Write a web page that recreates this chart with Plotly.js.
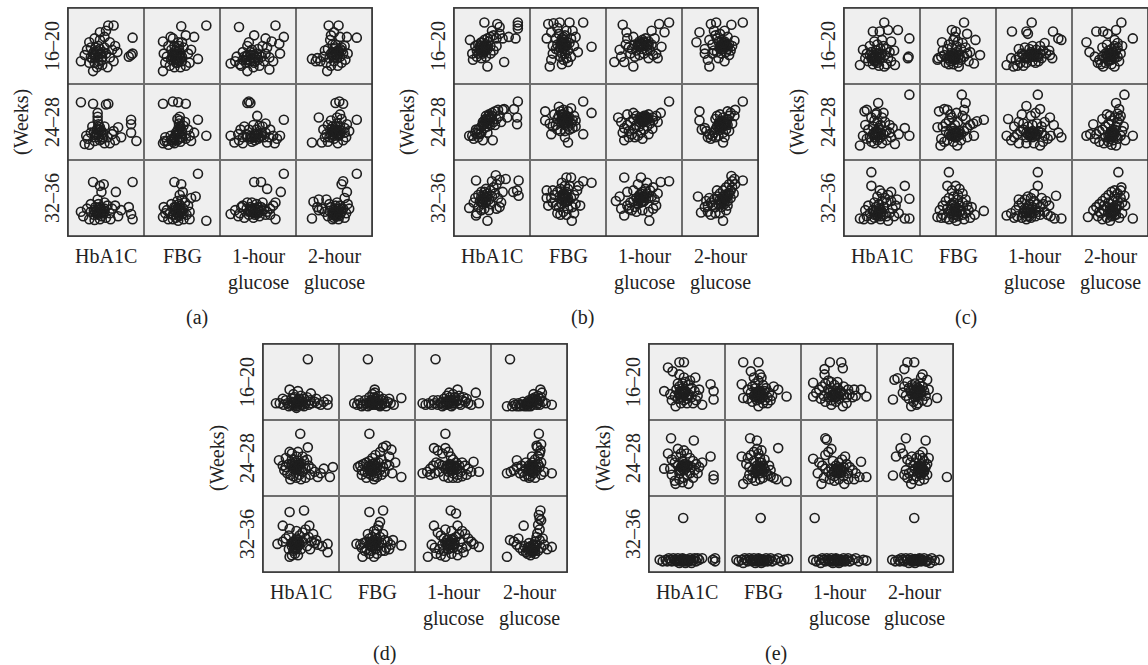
<!DOCTYPE html>
<html><head><meta charset="utf-8">
<script src="https://cdn.plot.ly/plotly-3.0.1.min.js"></script>
<style>html,body{margin:0;padding:0;background:#fff}#chart{width:1148px;height:665px}</style>
</head><body><div id="chart"></div>
<script>
// ---------- labels ----------
const panelNames = ['(a)', '(b)', '(c)', '(d)', '(e)'];
const rowLabels = ['16–20', '24–28', '32–36'];
const colLabels = ['HbA1C', 'FBG', '1-hour<br>glucose', '2-hour<br>glucose'];
const yTitle = '(Weeks)';

// ---------- data: [x, y] pairs per cell (relative units 0-100) ----------
// panel (a)
const a_r1_c1 = [[53,77],[60,77],[85,61],[83,38],[80,36],[85,40],[17,30],[33,17],[25,45],[28,55],[35,60],[42,58],[48,62],[55,55],[62,50],[58,45],[50,40],[45,35],[40,30],[35,28],[30,35],[38,42],[42,46],[33,40],[28,28],[45,25],[52,22],[38,22],[60,30],[22,38],[40,50],[48,48],[36,35],[44,40],[30,48],[55,35],[65,42],[42,68],[50,70],[36,38],[40,36],[42,40],[38,44],[34,42],[44,32],[32,34],[46,42],[40,26],[36,48]];
const a_r1_c2 = [[49,76],[82,77],[25,56],[25,17],[71,33],[55,64],[66,62],[42,38],[44,42],[46,46],[40,50],[45,55],[38,60],[48,35],[50,30],[42,28],[36,32],[30,36],[28,28],[34,24],[40,22],[48,22],[55,24],[60,28],[58,40],[52,48],[50,55],[36,45],[32,50],[44,34],[40,40],[46,30],[62,45],[38,36],[43,47],[35,62],[26,40],[44,38],[46,36],[42,44],[48,40],[40,36],[46,50],[44,28],[50,36],[38,40],[42,32]];
const a_r1_c3 = [[25,75],[73,77],[84,62],[78,53],[79,40],[65,19],[14,27],[36,17],[45,64],[60,60],[20,30],[26,26],[30,32],[35,36],[40,30],[45,28],[50,32],[55,36],[60,40],[65,35],[70,30],[48,40],[42,45],[36,50],[30,42],[22,36],[28,24],[44,22],[52,24],[56,50],[62,48],[68,56],[40,38],[34,28],[46,34],[58,30],[38,55],[50,46],[38,32],[42,34],[36,38],[44,38],[32,36],[48,36],[40,42],[34,32],[46,30],[52,38]];
const a_r1_c4 = [[43,77],[56,77],[80,61],[21,33],[67,62],[41,17],[32,30],[50,68],[58,62],[45,58],[52,52],[60,48],[55,44],[48,42],[52,38],[58,36],[62,40],[65,32],[50,30],[44,34],[40,28],[36,36],[28,34],[46,24],[55,24],[60,28],[64,50],[42,46],[38,44],[50,46],[54,34],[48,52],[26,30],[68,40],[46,64],[52,42],[54,38],[50,36],[56,44],[48,38],[58,46],[52,48],[46,40],[56,40],[60,44]];
const a_r2_c1 = [[17,76],[33,74],[50,73],[53,74],[39,62],[39,57],[39,52],[40,47],[42,43],[44,38],[46,36],[38,40],[36,33],[30,36],[26,28],[22,21],[28,20],[35,25],[45,28],[52,30],[58,34],[66,43],[60,38],[62,26],[55,22],[48,22],[83,53],[83,47],[83,36],[90,25],[70,30],[32,44],[48,44],[24,32],[42,40],[40,36],[38,34],[44,34],[40,30],[36,30],[42,26],[46,30],[34,36],[40,44]];
const a_r2_c2 = [[25,74],[38,77],[45,76],[55,74],[47,57],[47,52],[46,48],[48,44],[45,40],[50,38],[44,34],[40,30],[36,27],[30,25],[27,25],[25,22],[32,20],[40,22],[48,24],[55,28],[60,32],[58,40],[52,45],[42,36],[35,32],[71,53],[82,32],[66,36],[62,25],[28,30],[50,30],[38,24],[54,50],[44,54],[46,36],[44,38],[42,32],[40,28],[46,28],[48,30],[44,26],[38,26],[50,34],[46,44]];
const a_r2_c3 = [[36,75],[40,75],[38,77],[49,58],[84,53],[14,32],[19,23],[25,26],[30,30],[35,34],[40,32],[45,30],[50,28],[55,32],[60,36],[65,30],[70,32],[75,28],[79,32],[62,23],[30,22],[42,24],[48,40],[52,45],[56,44],[60,48],[44,46],[38,40],[32,44],[27,40],[66,40],[24,34],[50,34],[72,22],[44,32],[46,34],[42,30],[48,32],[52,30],[40,28],[54,36],[36,30],[58,30],[46,26]];
const a_r2_c4 = [[52,75],[57,77],[62,74],[30,56],[80,53],[67,47],[50,36],[52,40],[48,44],[54,48],[58,44],[60,38],[56,32],[50,28],[44,30],[40,34],[36,40],[42,46],[46,52],[54,56],[60,54],[64,36],[66,30],[62,26],[55,22],[34,23],[21,23],[42,24],[48,34],[38,30],[58,60],[45,40],[64,42],[70,38],[52,36],[54,40],[50,40],[56,38],[48,38],[54,34],[58,34],[50,32],[52,44],[46,34]];
const a_r3_c1 = [[85,71],[33,71],[42,66],[47,68],[63,58],[44,58],[39,48],[40,42],[36,38],[42,35],[45,32],[38,30],[34,28],[30,32],[25,36],[17,32],[20,26],[28,22],[35,21],[42,22],[50,24],[55,30],[58,36],[62,40],[52,40],[48,44],[30,42],[70,34],[80,38],[83,29],[85,22],[66,26],[44,26],[56,22],[48,36],[40,32],[42,30],[38,34],[44,36],[36,32],[40,28],[46,30],[42,38],[34,34],[48,32]];
const a_r3_c2 = [[71,82],[40,71],[49,68],[51,58],[68,52],[62,50],[44,46],[46,42],[42,38],[40,34],[44,30],[48,32],[52,36],[38,28],[34,30],[30,34],[26,38],[25,25],[32,22],[38,22],[45,20],[52,22],[56,28],[60,32],[58,40],[50,48],[36,42],[82,20],[60,22],[28,30],[46,26],[54,44],[42,24],[47,54],[46,34],[44,36],[48,36],[42,32],[50,32],[44,30],[48,40],[40,38],[46,28],[52,30]];
const a_r3_c3 = [[84,82],[45,71],[54,71],[62,62],[80,58],[73,44],[14,29],[73,22],[20,34],[26,30],[30,40],[35,36],[40,32],[43,34],[46,30],[50,34],[54,38],[58,35],[62,32],[66,36],[70,40],[48,42],[42,44],[38,28],[32,24],[44,24],[52,26],[60,28],[56,44],[28,38],[24,26],[66,28],[36,44],[50,30],[40,38],[44,32],[46,36],[48,32],[42,36],[52,32],[40,34],[54,34],[46,28],[50,38],[38,32]];
const a_r3_c4 = [[80,82],[60,68],[62,72],[67,58],[64,50],[23,45],[30,48],[40,48],[21,23],[54,32],[50,35],[56,36],[60,32],[58,28],[52,28],[48,30],[44,33],[46,38],[52,40],[58,40],[62,36],[66,30],[64,24],[56,22],[48,22],[42,26],[38,32],[34,36],[30,34],[28,38],[70,36],[68,42],[50,24],[54,44],[44,42],[54,30],[52,32],[56,32],[50,30],[58,30],[54,36],[52,26],[48,28],[56,26],[60,36]];
// panel (b)
const b_r1_c1 = [[40,81],[21,58],[57,79],[60,75],[84,81],[84,77],[84,73],[81,60],[66,29],[44,23],[25,32],[34,47],[30,44],[28,50],[32,52],[36,55],[40,58],[44,60],[48,62],[52,64],[56,60],[38,48],[42,52],[46,56],[36,42],[32,40],[40,44],[44,46],[48,50],[30,36],[36,34],[42,36],[48,40],[52,44],[56,50],[60,66],[64,60],[72,62],[50,70],[24,40],[38,46],[36,50],[40,50],[34,44],[42,48],[38,40],[44,50],[36,54],[40,42],[34,50]];
const b_r1_c2 = [[24,79],[31,80],[39,81],[52,81],[70,81],[22,60],[81,49],[26,23],[28,32],[50,29],[63,42],[44,55],[42,60],[46,64],[48,70],[38,66],[34,60],[36,52],[40,48],[44,46],[48,50],[52,54],[54,60],[50,44],[46,40],[42,40],[38,44],[34,46],[30,50],[40,36],[44,32],[48,34],[36,74],[56,70],[58,50],[30,40],[42,26],[54,36],[60,62],[28,68],[44,52],[46,54],[42,56],[48,52],[44,58],[40,54],[46,48],[42,50],[48,56],[44,62]];
const b_r1_c3 = [[22,78],[27,68],[70,79],[83,81],[77,68],[11,29],[24,29],[36,23],[18,45],[46,53],[50,55],[54,52],[42,50],[38,52],[44,56],[48,58],[52,60],[56,56],[60,52],[62,38],[73,49],[66,40],[58,44],[40,44],[34,46],[30,48],[26,52],[32,40],[38,36],[44,38],[50,40],[54,44],[64,60],[60,70],[36,62],[28,60],[20,36],[56,34],[68,34],[48,46],[48,52],[50,50],[46,50],[52,54],[44,52],[54,50],[50,56],[46,54],[42,52],[56,52]];
const b_r1_c4 = [[23,68],[38,79],[45,81],[80,81],[65,78],[19,55],[36,23],[34,32],[69,57],[54,51],[50,48],[56,54],[52,46],[58,50],[60,46],[62,52],[48,56],[46,60],[44,64],[50,66],[56,70],[60,62],[42,44],[40,40],[46,42],[52,40],[58,42],[62,38],[40,52],[36,58],[30,46],[48,34],[56,30],[64,44],[66,50],[42,70],[30,40],[52,58],[54,50],[52,52],[56,50],[54,46],[58,52],[50,50],[56,56],[52,48],[60,50],[54,54]];
const b_r2_c1 = [[20,32],[84,77],[83,56],[83,47],[79,67],[66,67],[42,54],[38,26],[51,26],[29,40],[24,32],[28,36],[32,40],[36,44],[40,48],[44,52],[48,56],[46,60],[50,62],[54,64],[58,66],[60,58],[56,54],[52,50],[48,46],[44,44],[40,42],[36,36],[32,30],[38,50],[42,58],[46,48],[54,46],[62,50],[70,56],[26,28],[34,34],[44,36],[64,66],[30,34],[44,52],[42,54],[46,54],[40,52],[48,54],[44,48],[42,50],[46,58],[38,46],[50,58]];
const b_r2_c2 = [[70,77],[81,62],[70,34],[46,52],[20,64],[20,52],[28,34],[50,23],[60,52],[44,56],[48,58],[42,60],[40,64],[44,66],[50,64],[52,56],[48,50],[44,48],[40,50],[36,54],[38,58],[42,52],[46,46],[50,44],[54,48],[56,52],[58,58],[34,46],[30,44],[36,40],[40,38],[46,38],[52,40],[56,42],[26,48],[38,70],[54,68],[46,30],[60,44],[32,60],[46,54],[44,52],[48,54],[46,58],[42,56],[50,56],[46,50],[44,60],[48,48],[50,52]];
const b_r2_c3 = [[83,77],[72,62],[61,56],[51,56],[24,26],[16,56],[37,41],[61,41],[48,54],[52,58],[56,60],[54,54],[50,50],[46,52],[44,56],[40,58],[36,54],[32,50],[28,46],[24,42],[30,38],[34,34],[38,30],[42,32],[46,36],[50,40],[54,44],[58,48],[62,52],[66,58],[44,44],[40,46],[36,62],[28,60],[20,50],[30,30],[48,28],[56,34],[68,50],[22,36],[50,54],[48,56],[52,56],[46,54],[54,56],[50,58],[48,50],[52,52],[44,50],[56,54]];
const b_r2_c4 = [[80,77],[23,64],[23,52],[56,47],[38,28],[54,23],[69,58],[52,44],[58,50],[60,54],[62,58],[64,62],[54,56],[50,52],[48,48],[46,44],[50,40],[54,36],[58,40],[60,46],[44,40],[42,36],[40,32],[36,34],[32,38],[30,42],[44,30],[48,32],[56,30],[62,38],[66,48],[70,66],[60,64],[50,60],[44,54],[26,40],[46,58],[34,30],[54,48],[52,46],[56,50],[52,50],[50,46],[56,46],[54,52],[58,46],[52,42],[48,44]];
const b_r3_c1 = [[29,73],[55,80],[68,75],[85,73],[83,60],[85,53],[38,49],[20,37],[29,27],[44,20],[40,52],[44,56],[48,60],[52,64],[56,68],[50,72],[42,62],[36,58],[32,54],[28,50],[34,46],[38,42],[42,44],[46,48],[50,52],[54,56],[58,50],[62,44],[60,38],[56,36],[36,34],[32,38],[40,36],[46,34],[26,44],[64,58],[60,74],[78,58],[48,42],[30,30],[40,50],[38,48],[42,50],[40,54],[36,52],[44,52],[38,44],[42,46],[36,46],[40,58]];
const b_r3_c2 = [[48,77],[54,77],[81,70],[70,72],[22,60],[55,20],[46,49],[42,52],[44,56],[48,58],[50,62],[52,66],[46,66],[40,62],[36,58],[32,54],[28,50],[30,44],[34,40],[38,38],[42,42],[46,44],[50,46],[54,50],[58,54],[62,60],[64,66],[60,42],[56,38],[50,36],[44,32],[40,28],[36,30],[24,40],[22,50],[66,40],[58,30],[48,28],[42,70],[30,60],[46,50],[44,50],[48,52],[46,54],[42,48],[50,50],[44,54],[48,46],[42,54],[46,46]];
const b_r3_c3 = [[24,77],[46,77],[72,71],[83,72],[46,49],[13,46],[24,27],[57,20],[50,52],[54,56],[58,60],[62,64],[52,62],[48,58],[44,54],[40,50],[36,46],[32,44],[28,40],[30,36],[34,34],[38,38],[42,42],[46,44],[50,46],[56,50],[60,52],[64,48],[66,40],[62,36],[56,32],[48,34],[40,32],[18,52],[20,36],[36,60],[28,58],[68,56],[42,68],[54,70],[46,50],[48,52],[44,48],[50,50],[48,46],[42,46],[52,54],[44,52],[50,46],[46,56]];
const b_r3_c4 = [[65,79],[69,75],[80,73],[21,52],[52,44],[54,20],[25,31],[56,48],[60,52],[62,56],[64,60],[66,64],[62,68],[58,64],[54,60],[50,56],[46,52],[42,48],[38,44],[34,40],[30,38],[32,46],[36,50],[40,40],[44,38],[48,42],[52,38],[56,42],[60,46],[64,50],[68,56],[70,68],[66,72],[44,30],[38,28],[50,30],[58,34],[46,60],[34,32],[60,40],[54,48],[56,50],[52,46],[58,54],[54,52],[50,48],[56,46],[52,42],[58,50],[60,56]];
// panel (c)
const c_r1_c1 = [[53,81],[38,69],[47,69],[58,71],[71,71],[86,60],[84,34],[85,36],[21,25],[40,36],[67,25],[53,23],[25,45],[30,40],[34,38],[38,34],[42,32],[46,36],[50,40],[54,38],[58,34],[62,30],[44,28],[38,26],[32,30],[28,34],[36,42],[42,44],[48,46],[52,50],[56,46],[60,42],[66,44],[34,50],[44,52],[46,24],[56,26],[62,56],[50,58],[40,56],[42,36],[40,34],[44,34],[38,38],[46,38],[40,30],[44,40],[36,34],[48,34],[42,30]];
const c_r1_c2 = [[58,81],[42,71],[47,69],[62,66],[73,58],[79,38],[29,55],[40,36],[23,32],[51,23],[71,27],[44,40],[48,42],[52,38],[46,34],[40,30],[36,34],[32,38],[28,36],[24,34],[34,28],[38,26],[44,26],[50,28],[54,32],[58,36],[62,40],[66,42],[60,48],[54,46],[48,50],[42,48],[36,46],[44,58],[50,56],[38,52],[56,54],[64,30],[30,44],[46,62],[44,36],[42,34],[46,36],[40,36],[44,32],[48,38],[42,38],[46,32],[38,34],[50,34]];
const c_r1_c3 = [[47,81],[40,69],[42,66],[21,69],[75,69],[82,60],[86,58],[14,25],[36,38],[53,45],[71,38],[23,23],[20,34],[26,32],[30,36],[34,40],[38,34],[42,36],[46,40],[50,38],[54,36],[58,40],[62,44],[66,40],[70,44],[60,34],[56,30],[48,30],[40,28],[32,28],[28,24],[36,24],[44,46],[48,50],[58,50],[64,54],[38,48],[52,28],[74,34],[30,46],[46,36],[48,38],[44,38],[50,36],[52,40],[42,34],[54,38],[46,42],[40,36],[56,36]];
const c_r1_c4 = [[65,81],[19,55],[32,69],[41,69],[47,66],[58,71],[80,60],[47,36],[23,42],[41,23],[56,23],[50,40],[54,42],[58,44],[60,48],[56,50],[52,46],[48,44],[44,40],[40,36],[36,32],[34,28],[38,26],[44,28],[48,30],[52,32],[56,34],[60,36],[62,30],[64,40],[46,52],[40,48],[60,54],[30,36],[52,26],[66,50],[56,58],[44,34],[50,36],[52,38],[48,36],[54,36],[50,32],[46,38],[52,42],[48,32],[56,38],[50,40]];
const c_r2_c1 = [[86,86],[27,64],[43,62],[45,75],[21,19],[45,36],[80,42],[86,32],[67,21],[25,32],[30,66],[36,56],[40,52],[44,50],[48,46],[46,42],[42,38],[38,34],[34,30],[30,28],[36,24],[40,22],[44,26],[48,30],[52,34],[56,38],[60,36],[62,30],[56,26],[50,22],[32,40],[38,44],[50,56],[54,50],[60,46],[28,46],[42,60],[52,62],[64,42],[72,34],[44,36],[42,34],[46,34],[40,36],[44,32],[48,36],[42,30],[46,40],[40,30],[48,30]];
const c_r2_c2 = [[55,86],[60,75],[25,64],[32,67],[75,51],[84,53],[71,32],[23,43],[45,36],[27,19],[49,19],[36,66],[40,60],[42,56],[38,52],[34,48],[30,44],[34,38],[38,34],[42,32],[46,30],[50,32],[54,34],[58,38],[62,42],[66,46],[70,48],[60,54],[56,58],[50,50],[46,46],[42,42],[36,26],[32,24],[44,24],[54,26],[62,30],[28,28],[48,62],[58,66],[46,36],[44,34],[48,36],[42,34],[46,32],[50,36],[44,38],[48,30],[40,32],[52,38]];
const c_r2_c3 = [[55,86],[40,71],[58,67],[71,56],[16,54],[82,36],[86,30],[14,32],[45,36],[58,19],[20,26],[24,30],[28,34],[32,38],[36,40],[40,36],[44,32],[48,30],[52,34],[56,38],[60,36],[64,32],[68,28],[72,32],[60,44],[54,48],[48,46],[42,44],[36,48],[30,50],[34,60],[46,58],[52,62],[64,50],[24,44],[30,22],[40,22],[50,22],[62,24],[76,46],[46,36],[48,34],[44,36],[50,36],[46,32],[42,34],[52,32],[48,38],[40,30],[54,34]];
const c_r2_c4 = [[69,86],[58,75],[62,67],[60,61],[28,47],[19,32],[80,32],[50,32],[58,19],[54,36],[56,40],[58,44],[60,50],[62,54],[64,58],[56,56],[52,52],[48,48],[44,44],[40,40],[36,38],[32,34],[24,34],[30,28],[36,24],[42,22],[48,24],[54,26],[60,28],[64,32],[66,38],[68,44],[50,58],[46,60],[40,54],[44,30],[52,20],[70,26],[52,34],[54,32],[50,34],[56,34],[52,30],[48,32],[54,38],[50,28],[58,32],[52,38]];
const c_r3_c1 = [[36,84],[36,66],[47,60],[80,66],[86,49],[21,23],[45,31],[80,23],[86,23],[30,26],[34,30],[38,34],[42,38],[46,42],[50,46],[54,50],[58,54],[62,58],[56,44],[52,38],[48,34],[44,28],[40,24],[36,22],[48,22],[56,26],[60,30],[64,36],[68,40],[40,44],[32,40],[28,34],[66,26],[72,30],[50,56],[62,46],[44,52],[26,22],[58,20],[70,48],[46,32],[44,30],[48,30],[42,32],[50,32],[46,36],[44,26],[48,26],[40,28],[52,28]];
const c_r3_c2 = [[38,84],[36,66],[47,66],[84,33],[23,25],[47,31],[42,60],[52,62],[56,56],[50,54],[44,52],[38,50],[34,46],[30,40],[26,34],[30,28],[34,24],[38,22],[44,24],[50,26],[56,28],[60,30],[64,34],[68,38],[72,28],[66,24],[58,22],[48,20],[40,30],[46,36],[52,40],[56,44],[60,48],[42,42],[36,36],[62,40],[28,24],[54,34],[44,44],[50,48],[46,34],[44,32],[48,32],[46,38],[42,36],[50,36],[44,28],[48,28],[40,34],[52,32]];
const c_r3_c3 = [[55,84],[55,66],[79,53],[14,27],[77,23],[86,23],[40,31],[20,30],[26,34],[30,40],[34,44],[38,48],[42,52],[46,50],[50,46],[54,42],[58,38],[62,42],[66,46],[70,40],[64,32],[58,28],[52,26],[46,24],[40,22],[34,24],[28,26],[36,30],[44,34],[48,38],[52,34],[56,32],[60,50],[44,42],[38,36],[30,48],[24,24],[68,28],[72,26],[50,56],[42,32],[40,30],[44,30],[38,32],[46,32],[42,36],[40,26],[44,26],[36,30],[48,30]];
const c_r3_c4 = [[61,84],[65,64],[69,53],[21,25],[80,23],[52,31],[28,34],[32,38],[36,42],[40,46],[44,50],[48,54],[52,58],[56,60],[60,56],[64,50],[66,44],[62,40],[58,36],[54,34],[50,36],[46,38],[42,34],[38,30],[34,26],[40,22],[46,24],[52,26],[58,28],[62,24],[66,30],[48,44],[54,46],[60,46],[42,40],[56,52],[64,60],[70,40],[36,32],[50,20],[54,34],[52,32],[56,32],[54,38],[50,34],[58,36],[52,28],[56,28],[50,30],[58,40]];
// panel (d)
const d_r1_c1 = [[59,80],[35,40],[46,38],[63,35],[85,27],[85,20],[17,22],[22,22],[27,20],[32,22],[36,20],[40,22],[44,20],[48,22],[52,20],[56,22],[60,20],[64,22],[68,24],[72,22],[76,20],[30,26],[38,28],[46,26],[54,28],[62,26],[42,30],[50,32],[34,18],[44,16],[54,18],[26,28],[70,28],[80,24],[40,34],[58,30],[48,28],[44,22],[46,22],[42,24],[48,24],[40,20],[50,20],[38,24],[52,24],[44,18],[46,26]];
const d_r1_c2 = [[38,80],[47,40],[47,36],[82,29],[20,22],[24,20],[28,22],[32,20],[36,22],[40,20],[44,22],[48,24],[52,22],[56,20],[60,22],[64,24],[68,22],[72,20],[26,26],[34,26],[42,26],[50,28],[58,28],[46,30],[52,32],[44,34],[30,18],[38,18],[54,18],[62,18],[66,28],[40,30],[48,20],[56,26],[44,22],[46,22],[42,24],[48,24],[40,22],[50,22],[46,26],[44,20],[52,20],[48,28]];
const d_r1_c3 = [[27,80],[56,40],[45,36],[80,36],[84,22],[10,22],[14,20],[18,22],[22,20],[26,22],[30,20],[34,22],[38,20],[42,22],[46,24],[50,22],[54,24],[58,22],[62,26],[66,24],[70,22],[74,20],[30,26],[38,28],[46,30],[52,30],[58,32],[64,30],[42,32],[50,34],[60,20],[24,26],[36,18],[48,18],[68,28],[44,22],[46,22],[40,24],[48,26],[42,20],[52,26],[36,24],[56,26],[44,26],[50,20]];
const d_r1_c4 = [[25,80],[65,40],[67,36],[80,20],[21,18],[28,18],[32,20],[36,22],[40,20],[44,18],[48,20],[52,22],[56,24],[60,26],[64,28],[62,32],[66,30],[58,30],[54,28],[50,24],[46,22],[42,24],[38,18],[34,18],[30,22],[60,20],[68,24],[72,22],[56,34],[62,22],[48,18],[52,18],[64,20],[52,24],[54,24],[50,22],[56,26],[48,22],[58,28],[46,20],[54,20],[60,24],[50,26]];
const d_r2_c1 = [[49,82],[35,58],[46,58],[59,64],[21,47],[92,38],[88,25],[72,25],[50,43],[54,46],[46,40],[42,44],[38,48],[34,42],[30,38],[26,40],[28,34],[32,30],[36,28],[40,26],[44,24],[48,28],[52,32],[56,36],[60,40],[64,36],[68,32],[62,28],[56,24],[48,36],[40,36],[44,52],[52,52],[38,56],[30,50],[76,30],[80,36],[36,22],[50,22],[58,48],[44,38],[42,40],[46,38],[40,40],[44,34],[48,40],[42,36],[46,44],[38,42],[50,36]];
const d_r2_c2 = [[40,82],[58,64],[69,61],[66,52],[82,25],[25,38],[42,38],[50,25],[62,66],[54,58],[48,54],[44,50],[40,46],[36,44],[32,42],[28,40],[30,34],[34,32],[38,30],[42,28],[46,26],[50,30],[54,34],[58,38],[62,42],[66,40],[60,32],[56,28],[44,34],[48,40],[52,44],[38,38],[30,28],[70,30],[36,24],[46,22],[74,44],[56,48],[44,38],[46,40],[42,36],[48,36],[44,42],[40,40],[46,34],[50,38],[42,32],[48,44]];
const d_r2_c3 = [[40,82],[25,63],[40,63],[47,52],[77,45],[84,32],[10,30],[47,38],[30,60],[44,58],[36,56],[50,48],[54,44],[58,40],[62,44],[66,40],[70,36],[74,32],[60,32],[56,28],[50,30],[44,32],[40,36],[36,40],[32,42],[28,44],[24,40],[20,36],[16,32],[20,28],[26,30],[32,32],[38,26],[44,24],[50,24],[56,24],[62,26],[68,28],[46,42],[52,36],[48,38],[50,38],[46,36],[52,40],[44,38],[50,34],[54,38],[46,40],[56,36],[42,40]];
const d_r2_c4 = [[63,82],[61,64],[65,60],[34,47],[21,30],[80,30],[52,34],[64,56],[62,52],[58,48],[54,44],[50,40],[46,36],[42,32],[38,30],[30,34],[26,32],[34,38],[48,28],[52,26],[56,30],[60,34],[64,38],[66,44],[62,42],[56,38],[50,24],[44,26],[58,24],[66,28],[70,32],[40,40],[60,66],[66,68],[54,52],[46,44],[54,36],[56,34],[52,38],[58,36],[54,32],[50,36],[56,40],[52,32],[60,38],[54,40]];
const d_r3_c1 = [[35,79],[54,81],[26,61],[35,57],[61,61],[19,37],[85,37],[85,26],[43,37],[35,20],[40,40],[44,44],[48,48],[52,52],[56,56],[46,40],[38,34],[34,30],[40,28],[44,32],[48,36],[52,40],[56,44],[60,46],[64,40],[68,38],[72,36],[78,34],[50,30],[42,24],[38,22],[30,44],[26,40],[34,48],[58,34],[46,22],[66,50],[44,54],[62,30],[70,42],[44,36],[42,38],[46,34],[40,36],[44,40],[48,38],[42,32],[46,42],[38,38],[44,30]];
const d_r3_c2 = [[40,79],[58,81],[52,61],[71,42],[82,35],[23,37],[42,37],[31,20],[46,20],[46,54],[50,56],[48,50],[44,46],[40,44],[36,40],[32,38],[28,36],[30,32],[36,30],[42,28],[48,30],[52,34],[56,38],[60,42],[64,40],[68,36],[62,32],[56,28],[50,24],[40,24],[54,46],[58,50],[46,40],[38,50],[54,66],[34,28],[66,30],[44,34],[50,44],[60,28],[44,38],[46,36],[42,40],[48,38],[44,34],[40,36],[46,42],[50,40],[42,34],[48,34]];
const d_r3_c3 = [[47,81],[54,77],[56,61],[25,61],[77,37],[84,33],[17,20],[43,37],[30,52],[34,48],[38,44],[42,42],[46,40],[50,44],[54,46],[58,50],[62,54],[66,50],[70,44],[74,40],[68,34],[62,32],[56,30],[50,32],[44,30],[38,28],[32,30],[26,32],[22,36],[28,24],[34,22],[40,20],[48,24],[56,22],[64,26],[48,54],[40,56],[60,40],[36,36],[52,36],[46,36],[44,38],[48,38],[42,36],[50,36],[46,32],[44,34],[52,38],[40,38],[48,42]];
const d_r3_c4 = [[65,81],[63,75],[43,61],[25,42],[21,20],[80,33],[52,33],[61,51],[64,56],[62,62],[66,68],[60,46],[58,40],[56,36],[54,30],[50,28],[46,26],[42,28],[38,32],[34,36],[30,40],[48,24],[52,22],[58,24],[62,28],[66,32],[70,36],[74,30],[64,42],[60,36],[56,28],[48,32],[44,34],[36,44],[68,44],[64,70],[50,38],[54,32],[52,30],[56,30],[54,28],[50,32],[58,32],[52,34],[56,34],[54,26],[58,28]];
// panel (e)
const e_r1_c1 = [[40,76],[46,76],[25,69],[31,64],[61,56],[20,38],[81,47],[85,38],[85,27],[44,36],[35,18],[70,20],[40,34],[48,38],[52,34],[56,30],[50,28],[46,26],[42,30],[38,28],[34,32],[30,26],[28,34],[36,40],[40,44],[44,48],[48,50],[52,46],[56,42],[60,38],[64,32],[62,26],[58,22],[50,22],[42,22],[38,48],[46,56],[54,52],[66,40],[40,60],[44,36],[42,34],[46,34],[42,38],[46,38],[40,36],[48,36],[44,30],[44,42],[50,32]];
const e_r1_c2 = [[24,76],[44,76],[34,64],[22,47],[70,40],[81,31],[24,29],[44,33],[44,18],[40,30],[48,34],[52,38],[50,30],[46,28],[42,26],[38,32],[34,36],[30,40],[36,44],[40,48],[44,52],[48,56],[46,60],[40,42],[50,46],[54,42],[58,36],[62,32],[60,26],[56,22],[50,22],[36,24],[30,28],[52,26],[64,44],[38,56],[42,36],[56,30],[44,34],[46,34],[42,32],[46,38],[42,36],[48,32],[44,30],[40,34],[50,36],[44,38]];
const e_r1_c3 = [[38,76],[53,76],[31,67],[31,60],[55,68],[16,49],[79,40],[86,31],[16,31],[44,33],[55,18],[20,36],[24,40],[28,44],[32,48],[36,52],[40,50],[44,46],[48,42],[52,38],[56,34],[60,30],[64,34],[68,30],[72,32],[50,28],[46,24],[40,26],[36,30],[30,32],[26,28],[42,38],[36,40],[48,50],[56,44],[62,40],[40,20],[32,24],[60,22],[70,40],[44,34],[46,36],[42,34],[48,34],[44,30],[50,32],[40,32],[46,30],[52,36],[38,36]];
const e_r1_c4 = [[40,76],[49,76],[36,67],[23,53],[27,55],[21,27],[79,29],[66,53],[53,36],[45,18],[48,40],[52,44],[56,40],[58,36],[54,32],[50,30],[46,34],[44,38],[42,42],[46,46],[50,48],[56,48],[60,44],[62,38],[64,32],[60,26],[54,22],[48,24],[42,28],[38,32],[34,36],[40,50],[58,56],[60,60],[68,40],[36,44],[52,20],[66,24],[53,36],[51,34],[55,38],[52,40],[56,34],[50,38],[54,32],[58,38],[48,36],[54,42]];
const e_r2_c1 = [[29,76],[59,73],[20,36],[25,56],[81,52],[85,27],[85,22],[46,38],[35,16],[52,16],[42,34],[38,40],[34,44],[30,48],[36,52],[42,56],[46,60],[50,56],[54,50],[58,46],[62,42],[66,38],[60,34],[54,30],[50,28],[46,24],[40,22],[34,20],[30,28],[28,36],[48,42],[52,40],[56,38],[44,46],[40,30],[64,30],[70,44],[58,24],[44,18],[38,62],[46,38],[44,36],[48,36],[44,40],[48,40],[42,38],[50,38],[46,34],[46,42],[40,34]];
const e_r2_c2 = [[33,76],[42,73],[70,63],[22,52],[24,16],[81,19],[44,34],[40,30],[36,34],[32,38],[28,42],[30,50],[34,54],[38,58],[42,62],[44,56],[46,50],[48,44],[50,40],[52,36],[54,32],[56,28],[60,26],[64,24],[68,22],[50,24],[46,22],[40,20],[36,24],[32,28],[42,40],[46,44],[38,46],[52,48],[48,60],[58,40],[30,22],[60,34],[44,34],[46,36],[42,32],[48,34],[44,38],[46,30],[42,36],[50,32],[40,34],[48,38]];
const e_r2_c3 = [[34,74],[32,76],[16,49],[79,45],[77,25],[86,25],[49,34],[27,16],[57,16],[40,62],[36,58],[32,54],[24,44],[28,40],[32,36],[36,32],[40,28],[44,26],[48,30],[52,34],[56,38],[60,42],[64,38],[68,34],[72,30],[62,30],[56,26],[50,22],[44,20],[38,22],[30,24],[46,40],[50,44],[54,48],[42,46],[40,36],[62,22],[70,22],[58,52],[22,30],[49,34],[47,32],[51,36],[49,38],[45,34],[53,32],[47,36],[51,30],[55,34],[43,32]];
const e_r2_c4 = [[38,76],[64,73],[31,63],[25,52],[21,27],[92,25],[58,34],[45,16],[54,38],[58,42],[62,46],[60,50],[56,54],[52,50],[50,44],[54,30],[58,28],[62,32],[64,38],[66,42],[50,36],[46,32],[42,30],[38,34],[34,56],[40,48],[44,44],[48,40],[52,26],[48,22],[56,20],[62,22],[66,28],[40,24],[36,28],[60,58],[68,50],[46,52],[58,34],[56,36],[60,36],[56,32],[60,32],[54,34],[58,38],[62,34],[56,40],[58,30]];
const e_r3_c1 = [[45,71],[14,16],[18,14],[22,16],[26,18],[30,14],[34,16],[38,18],[42,16],[46,14],[50,16],[54,18],[58,16],[62,14],[66,16],[70,18],[28,16],[36,14],[44,18],[52,14],[60,18],[40,12],[48,12],[56,12],[32,18],[84,16],[87,14],[87,18],[64,18],[24,14],[40,15],[44,16],[48,15],[52,16],[36,16],[56,15],[46,17],[42,14],[38,15],[50,14]];
const e_r3_c2 = [[47,71],[15,16],[18,14],[22,16],[26,18],[30,14],[34,16],[38,18],[42,16],[46,14],[50,16],[54,18],[58,16],[62,14],[66,16],[70,18],[74,14],[78,16],[83,17],[28,16],[36,14],[44,18],[52,14],[40,12],[48,12],[32,18],[56,14],[60,18],[24,12],[40,15],[44,16],[48,15],[52,16],[36,16],[56,15],[46,17],[42,14],[38,15],[50,14]];
const e_r3_c3 = [[18,71],[16,16],[20,14],[24,16],[28,18],[32,14],[36,16],[40,18],[44,16],[48,14],[52,16],[56,18],[60,16],[64,14],[68,16],[72,18],[76,14],[82,16],[86,15],[30,16],[38,14],[46,18],[54,14],[42,12],[50,12],[34,18],[58,14],[62,18],[26,12],[40,15],[44,16],[48,15],[52,16],[36,16],[56,15],[46,17],[42,14],[38,15],[50,14]];
const e_r3_c4 = [[49,71],[20,16],[24,14],[28,16],[32,18],[36,14],[40,16],[44,18],[48,14],[52,16],[56,18],[60,16],[64,14],[68,16],[72,18],[76,15],[82,16],[30,14],[38,18],[46,16],[54,14],[42,12],[50,12],[58,14],[62,18],[34,16],[66,14],[70,12],[44,15],[48,16],[52,15],[56,16],[60,15],[50,17],[46,14],[54,17],[58,16]];

// ---------- assemble ----------
const panelCells = [
  [[a_r1_c1,a_r1_c2,a_r1_c3,a_r1_c4],[a_r2_c1,a_r2_c2,a_r2_c3,a_r2_c4],[a_r3_c1,a_r3_c2,a_r3_c3,a_r3_c4]],
  [[b_r1_c1,b_r1_c2,b_r1_c3,b_r1_c4],[b_r2_c1,b_r2_c2,b_r2_c3,b_r2_c4],[b_r3_c1,b_r3_c2,b_r3_c3,b_r3_c4]],
  [[c_r1_c1,c_r1_c2,c_r1_c3,c_r1_c4],[c_r2_c1,c_r2_c2,c_r2_c3,c_r2_c4],[c_r3_c1,c_r3_c2,c_r3_c3,c_r3_c4]],
  [[d_r1_c1,d_r1_c2,d_r1_c3,d_r1_c4],[d_r2_c1,d_r2_c2,d_r2_c3,d_r2_c4],[d_r3_c1,d_r3_c2,d_r3_c3,d_r3_c4]],
  [[e_r1_c1,e_r1_c2,e_r1_c3,e_r1_c4],[e_r2_c1,e_r2_c2,e_r2_c3,e_r2_c4],[e_r3_c1,e_r3_c2,e_r3_c3,e_r3_c4]]
];

// ---------- geometry (pixels) ----------
const W = 1148, H = 665;
const CW = 76, CH = 76;
const panelOrigin = [[68, 8], [454, 8], [844, 8], [263, 344], [649, 344]];
const panelLabelX = [197, 582, 966, 384, 776];
const FONT = {family: 'Liberation Serif, Times New Roman, serif', size: 20, color: '#222'};

const px = v => v / W;
const py = v => 1 - v / H;

const traces = [];
const layout = {
  width: W, height: H,
  margin: {l: 0, r: 0, t: 0, b: 0, pad: 0},
  paper_bgcolor: '#ffffff',
  plot_bgcolor: '#efefef',
  showlegend: false,
  shapes: [],
  annotations: []
};

let n = 0;
panelCells.forEach((rows, p) => {
  const [L, T] = panelOrigin[p];
  rows.forEach((cols, r) => {
    cols.forEach((pts, c) => {
      n += 1;
      const xa = n === 1 ? 'x' : 'x' + n;
      const ya = n === 1 ? 'y' : 'y' + n;
      traces.push({
        type: 'scatter', mode: 'markers',
        x: pts.map(d => d[0]), y: pts.map(d => d[1]),
        xaxis: xa, yaxis: ya,
        marker: {symbol: 'circle-open', size: 9, color: '#1e1e1e', line: {width: 1.6}},
        hoverinfo: 'skip', cliponaxis: false
      });
      const x0 = L + c * CW, x1 = x0 + CW;
      const y0 = T + r * CH, y1 = y0 + CH;
      const common = {range: [0, 100], showticklabels: false, ticks: '', showgrid: false,
        zeroline: false, showline: true, mirror: true, linecolor: '#6e6e6e', linewidth: 1.2, fixedrange: true};
      layout[n === 1 ? 'xaxis' : 'xaxis' + n] = Object.assign({}, common, {domain: [px(x0), px(x1)], anchor: ya});
      layout[n === 1 ? 'yaxis' : 'yaxis' + n] = Object.assign({}, common, {domain: [py(y1), py(y0)], anchor: xa});
    });
  });
  // outer frame
  layout.shapes.push({type: 'rect', xref: 'paper', yref: 'paper',
    x0: px(L), x1: px(L + 4 * CW), y0: py(T + 3 * CH), y1: py(T),
    line: {color: '#333', width: 1.6}, fillcolor: 'rgba(0,0,0,0)', layer: 'above'});
  // row labels
  rowLabels.forEach((t, r) => {
    layout.annotations.push({text: t, xref: 'paper', yref: 'paper', x: px(L - 16), y: py(T + CH * (r + 0.5)),
      textangle: -90, showarrow: false, xanchor: 'center', yanchor: 'middle', font: FONT});
  });
  // y title
  layout.annotations.push({text: yTitle, xref: 'paper', yref: 'paper', x: px(L - 46), y: py(T + 1.5 * CH),
    textangle: -90, showarrow: false, xanchor: 'center', yanchor: 'middle', font: FONT});
  // column labels
  const B = T + 3 * CH;
  colLabels.forEach((t, c) => {
    const twoLine = t.indexOf('<br>') >= 0;
    layout.annotations.push({text: t, xref: 'paper', yref: 'paper', x: px(L + CW * (c + 0.5)),
      y: py(B + 8), showarrow: false, xanchor: 'center', yanchor: 'top', borderpad: 0, font: FONT});
  });
  // panel name
  layout.annotations.push({text: panelNames[p], xref: 'paper', yref: 'paper', x: px(panelLabelX[p]), y: py(B + 81),
    showarrow: false, xanchor: 'center', yanchor: 'middle', font: FONT});
});

Plotly.newPlot('chart', traces, layout, {displayModeBar: false, staticPlot: true});
</script>
</body></html>
